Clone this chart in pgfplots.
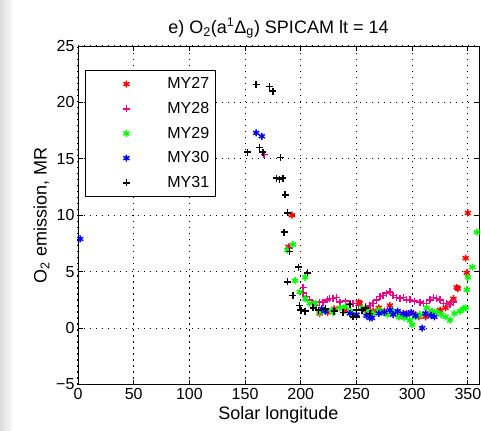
\documentclass[border=0pt]{standalone}
\usepackage{pgfplots}
\pgfplotsset{compat=1.18}
\usepackage{fontspec}
\setmainfont{Liberation Sans}
\pgfplotsset{
  lg/.style={only marks, line width=1.5pt, mark size=3.5pt,
    legend image code/.code={%
      \path[draw=none,fill=none] (0pt,-2pt) rectangle (76pt,2pt);
      \draw[##1] plot coordinates {(37pt,0pt)};}},
}
\begin{document}
\begin{tikzpicture}
\useasboundingbox (-78pt,-46pt) rectangle (403pt,384.5pt);
\fill[left color=gray!28, right color=white] (-78pt,-46pt) rectangle (-64pt,384.5pt);
\begin{axis}[
  at={(0pt,0pt)}, anchor=south west,
  scale only axis, width=401pt, height=338.5pt,
  xmin=0, xmax=360, ymin=-5, ymax=25,
  xtick={0,50,...,350}, ytick={-5,0,...,25},
  xticklabels={0,50,100,150,200,250,300,350},
  yticklabels={−5,0,5,10,15,20,25},
  grid=major,
  grid style={black, line width=1pt, dash pattern=on 1.4pt off 4.6pt},
  tick align=inside, major tick length=5pt,
  tick style={black, line width=0.8pt},
  axis line style={line width=0.9pt},
  tick label style={font=\fontsize{16}{18}\selectfont},
  label style={font=\fontsize{18}{21}\selectfont},
  title style={font=\fontsize{18}{21}\selectfont, yshift=-2pt},
  xlabel={Solar longitude},
  ylabel={O\textsubscript{2} emission, MR},
  title={e) O\textsubscript{2}(a\textsuperscript{1}Δ\textsubscript{g}) SPICAM lt = 14},
  legend style={at={(rel axis cs:0.0175,0.928)}, anchor=north west,
    draw=black, line width=0.8pt, fill=white,
    font=\fontsize{16}{18}\selectfont, inner xsep=4pt, inner ysep=5pt,
    row sep=8pt},
  legend cell align=left,
]
\addplot[red, mark=asterisk, lg] coordinates {
(189,7.2) (192,10.0) (217,1.3) (224,1.4) (230,1.7) (240,1.6) (252,2.3) (253,2.2) (258,1.6) (265,1.5) (270,1.8) (275,1.5) (280,2.0) (283,1.4) (289,1.1) (295,1.3) (301,1.3) (306,1.0) (312,1.0) (318,1.4) (325,1.6) (330,1.8) (334,2.2) (337,2.6) (340,3.6) (341,3.5) (348,6.2) (349,4.9) (350,10.2)
};
\addlegendentry{MY27}
\addplot[magenta, mark=+, lg] coordinates {
(167,15.4) (190,7.1) (202,3.6) (202,3.1) (205,2.8) (208,2.5) (211,2.2) (214,2.0) (217,2.3) (220,2.3) (224,2.5) (226,2.6) (229,2.6) (232,2.7) (235,2.3) (240,2.4) (244,2.2) (247,2.2) (252,2.0) (258,1.9) (262,2.0) (265,2.2) (268,2.5) (271,2.8) (274,2.9) (277,3.1) (280,3.2) (283,2.9) (286,2.7) (289,2.6) (292,2.7) (295,2.5) (298,2.5) (302,2.4) (307,2.3) (310,2.2) (313,2.2) (316,2.5) (319,2.7) (322,2.6) (325,2.5) (328,2.2) (331,2.2) (334,2.1) (337,2.3)
};
\addlegendentry{MY28}
\addplot[green, mark=asterisk, lg] coordinates {
(188,6.9) (193,7.4) (195,4.2) (199,3.2) (204,4.5) (204,2.6) (208,2.2) (213,2.2) (217,1.4) (222,1.5) (228,1.6) (229,1.4) (235,1.8) (240,1.9) (245,1.5) (255,1.8) (260,1.5) (265,1.3) (270,1.6) (274,1.4) (278,1.2) (283,1.5) (288,1.0) (293,0.9) (298,0.7) (300,0.3) (303,1.0) (307,1.2) (313,1.8) (318,1.5) (322,1.4) (326,1.2) (330,1.0) (334,0.7) (338,1.3) (343,1.5) (346,1.7) (348,1.8) (349,3.4) (350,4.5) (354,5.4) (358,8.5)
};
\addlegendentry{MY29}
\addplot[blue, mark=asterisk, lg] coordinates {
(2,7.9) (160,17.3) (165,17.0) (219,1.7) (222,1.5) (244,1.3) (250,1.2) (259,1.1) (262,0.9) (264,0.9) (270,1.3) (275,1.4) (280,1.6) (283,1.2) (287,1.5) (292,1.3) (295,1.2) (299,1.4) (303,1.1) (309,0.0) (312,1.3) (317,1.1) (320,1.0)
};
\addlegendentry{MY30}
\addplot[black, mark=+, lg] coordinates {
(152,15.6) (160,21.6) (163,16.0) (166,15.6) (172,21.4) (175,21.0) (178,13.3) (181,13.2) (184,13.3) (182,15.1) (186,11.8) (188,10.2) (185,8.5) (190,6.8) (188,4.1) (193,2.9) (198,5.4) (206,4.9) (199,2.0) (200,1.6) (204,1.5) (211,1.8) (216,1.6) (222,1.7) (230,1.5) (238,1.4) (244,2.1) (247,1.0) (250,1.0) (250,1.6) (255,1.6) (258,1.8) (262,1.3)
};
\addlegendentry{MY31}
\end{axis}
\end{tikzpicture}
\end{document}
